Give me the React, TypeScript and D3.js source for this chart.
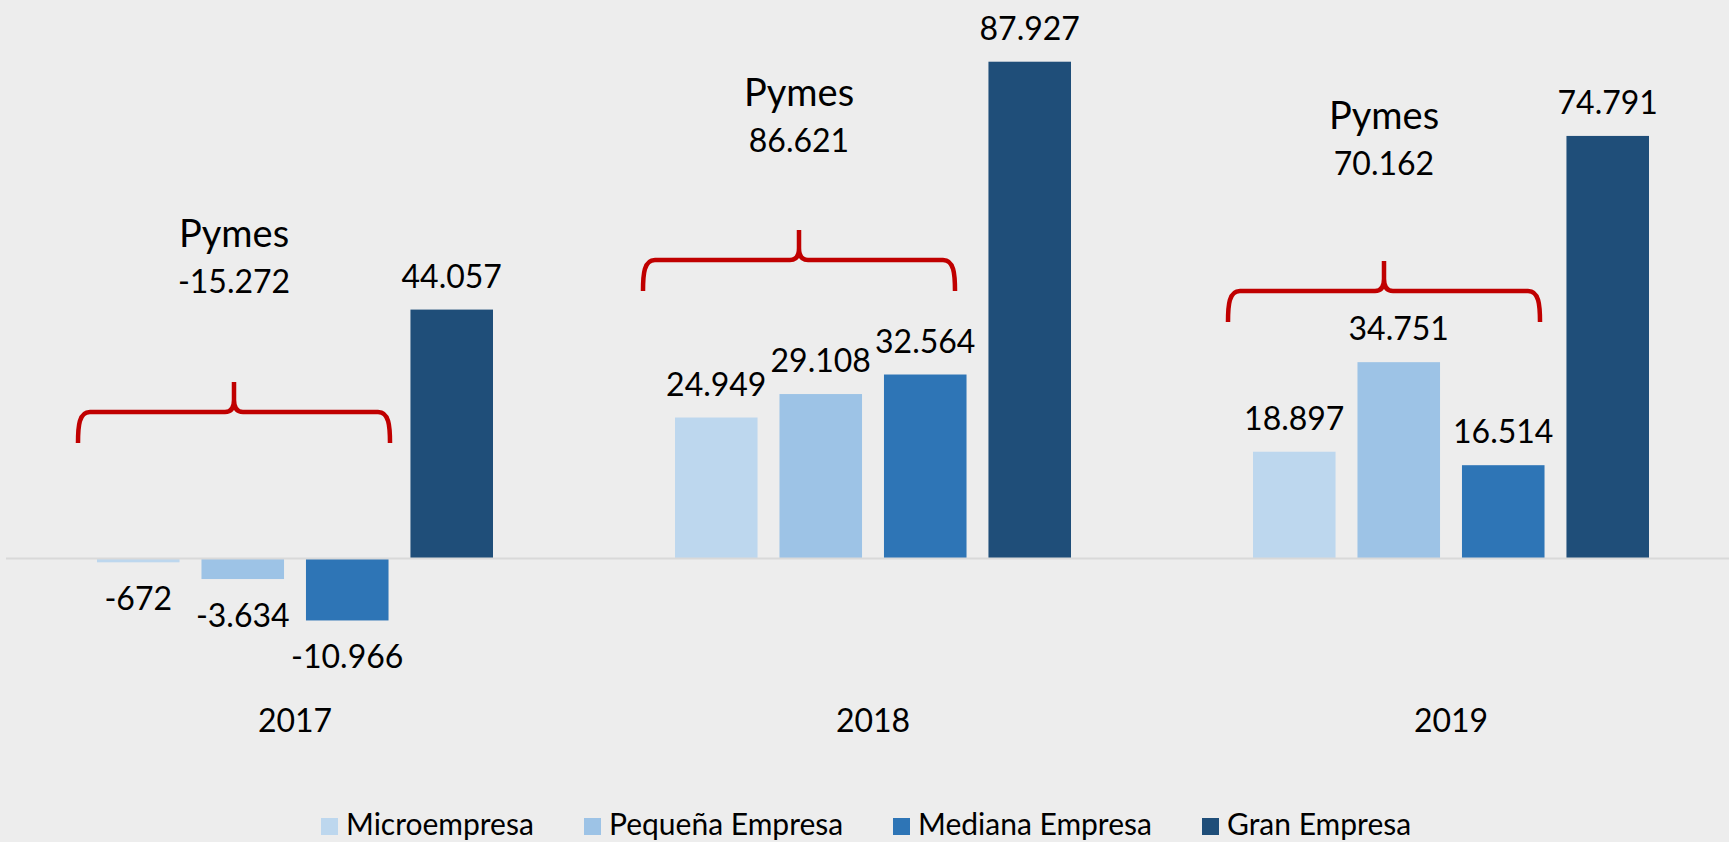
import * as d3 from "d3";

const years = ["2017", "2018", "2019"];
const series = ["Microempresa", "Pequeña Empresa", "Mediana Empresa", "Gran Empresa"];
const colors = ["#bdd7ee", "#9dc3e6", "#2e75b6", "#1f4e79"];

const micro = [-672, 24949, 18897];
const pequena = [-3634, 29108, 34751];
const mediana = [-10966, 32564, 16514];
const gran = [44057, 87927, 74791];

const pymesLabel = "Pymes";

// hand placed annotation layout (brace offset from group centre, brace line y, label baseline)
const braceDx = [-61, -74, -67];
const braceY = [412, 260, 291];
const pymesY = [247, 106, 129];

const legendX = [321, 584, 893, 1202];

const W = 1729;
const H = 842;
const FONT = "Lato, 'Noto Sans', sans-serif";

const fmt = (v: number) => {
  const s = d3.format(",")(Math.abs(v)).replace(/,/g, ".");
  return v < 0 ? "-" + s : s;
};

function brace(xc: number, y: number, half: number) {
  const x0 = xc - half;
  const x1 = xc + half;
  const p = d3.path();
  p.moveTo(x0, y + 31);
  p.bezierCurveTo(x0, y + 14, x0 + 1, y, x0 + 12, y);
  p.lineTo(xc - 9, y);
  p.quadraticCurveTo(xc, y, xc, y - 12);
  p.lineTo(xc, y - 30);
  p.moveTo(xc, y - 12);
  p.quadraticCurveTo(xc, y, xc + 9, y);
  p.lineTo(x1 - 12, y);
  p.bezierCurveTo(x1 - 1, y, x1, y + 14, x1, y + 31);
  return p.toString();
}

export default function App() {
  const values = [micro, pequena, mediana, gran];

  const x0 = d3.scaleBand().domain(years).range([6, 1740]);
  const x1 = d3.scaleBand().domain(series).range([-198, 198]).paddingInner(0.21);
  const y = d3.scaleLinear().domain([-20000, 90000]).range([558.5 + 20 * 5.65, 558.5 - 90 * 5.65]);

  return (
    <div style={{ position: "absolute", left: 0, top: 0 }}>
      <svg width={W} height={H} style={{ display: "block", fontFamily: FONT }}>
        <rect width={W} height={H} fill="#ededed" />

        {years.map((yr, i) => {
          const cx = x0(yr)! + x0.bandwidth() / 2;
          return (
            <g key={yr}>
              {series.map((s, j) => {
                const v = values[j][i];
                const bx = cx + x1(s)!;
                const top = y(Math.max(0, v));
                const bot = y(Math.min(0, v));
                return (
                  <g key={s}>
                    <rect x={bx} y={top} width={x1.bandwidth()} height={bot - top} fill={colors[j]} />
                    <text
                      x={bx + x1.bandwidth() / 2}
                      y={v >= 0 ? top - 22 : bot + 48}
                      textAnchor="middle"
                      fontSize={32}
                      fill="#000"
                    >
                      {fmt(v)}
                    </text>
                  </g>
                );
              })}
              <text x={cx} y={732} textAnchor="middle" fontSize={32} fill="#000">
                {yr}
              </text>
            </g>
          );
        })}

        <line x1={6} x2={W} y1={y(0)} y2={y(0)} stroke="#d9d9d9" strokeWidth={2} />

        {years.map((yr, i) => {
          const cx = x0(yr)! + x0.bandwidth() / 2 + braceDx[i];
          const total = micro[i] + pequena[i] + mediana[i];
          return (
            <g key={"b" + yr}>
              <path d={brace(cx, braceY[i], 156)} fill="none" stroke="#c00000" strokeWidth={4.5} />
              <text x={cx} y={pymesY[i]} textAnchor="middle" fontSize={38} fill="#000">
                {pymesLabel}
              </text>
              <text x={cx} y={pymesY[i] + 46} textAnchor="middle" fontSize={32} fill="#000">
                {fmt(total)}
              </text>
            </g>
          );
        })}

        {series.map((s, j) => (
          <g key={"l" + s}>
            <rect x={legendX[j]} y={818} width={17} height={17} fill={colors[j]} />
            <text x={legendX[j] + 25} y={835} fontSize={30} fill="#000">
              {s}
            </text>
          </g>
        ))}
      </svg>
    </div>
  );
}
